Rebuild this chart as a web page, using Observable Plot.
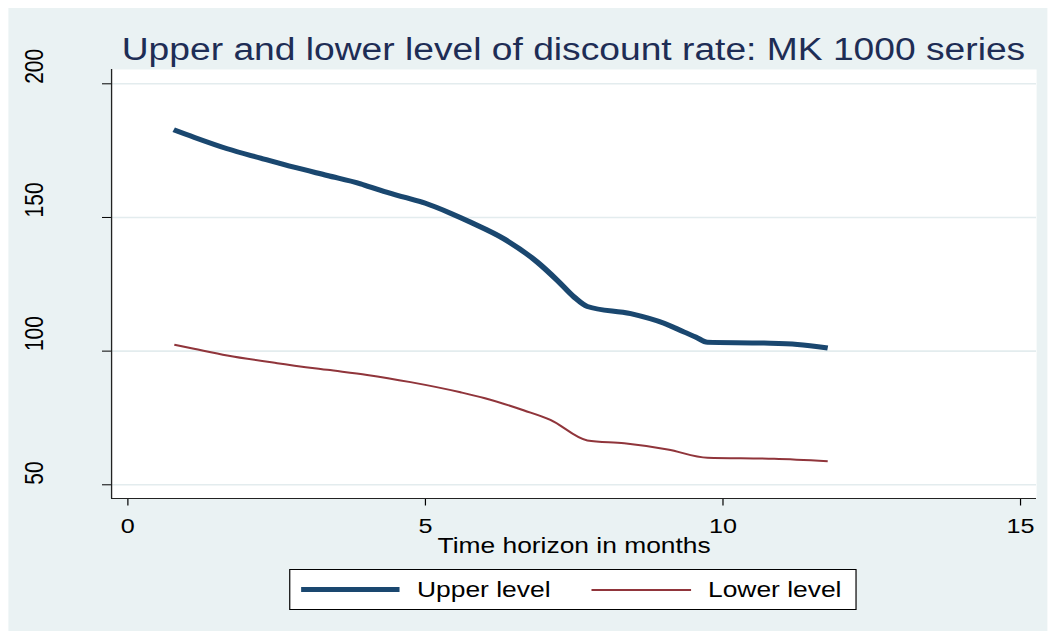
<!DOCTYPE html>
<html>
<head>
<meta charset="utf-8">
<script src="https://cdn.jsdelivr.net/npm/d3@7"></script>
<script src="https://cdn.jsdelivr.net/npm/@observablehq/plot@0.6"></script>
<style>
  body { margin: 0; background: #fff; }
  #page { position: relative; width: 1051px; height: 635px; background: #fff; overflow: hidden; font-family: "Liberation Sans", Arial, sans-serif; }
  #chart { position: absolute; left: 0; top: 0; width: 876px; height: 635px; transform: scaleX(1.19977); transform-origin: 0 0; }
  #bg { position: absolute; left: 6.67px; top: 8px; width: 866px; height: 623px; background: #eaf2f3; }
  #title { position: absolute; left: 92.5px; width: 771px; top: 34px; font-size: 31px; line-height: 31px; text-align: center; color: #1e2d55; white-space: nowrap; }
  #plot { position: absolute; left: 0; top: 62px; }
  #legend { position: absolute; left: 240.9px; top: 569px; width: 473.4px; height: 41px; box-sizing: border-box; border: 1px solid #000; background: #fff; }
  #legend .sw { position: absolute; width: 82.5px; }
  #legend .lt { position: absolute; top: 0; font-size: 22px; line-height: 40px; color: #000; white-space: nowrap; }
</style>
</head>
<body>
<div id="page">
  <div id="chart">
    <div id="bg"></div>
    <div id="title">Upper and lower level of discount rate: MK 1000 series</div>
    <div id="plot"></div>
    <div id="legend">
      <div class="sw" style="left:9px; top:17px; height:5px; background:#1a476f;"></div>
      <div class="lt" style="left:105.7px;">Upper level</div>
      <div class="sw" style="left:251.5px; top:18.5px; height:2px; background:#90353b;"></div>
      <div class="lt" style="left:348.2px;">Lower level</div>
    </div>
  </div>
</div>
<script>
// ---- data ----
const upperMonths = [0.77, 1.11, 1.67, 2.23, 2.79, 3.35, 3.91, 4.25, 4.64, 5.00, 5.42, 5.76, 6.32, 6.88, 7.22, 7.50, 7.72, 8.45, 9.01, 9.35, 9.54, 9.74, 10.69, 11.25, 11.76];
const upperValues = [182.8, 180.0, 175.7, 172.2, 168.8, 165.7, 162.6, 160.1, 157.6, 155.3, 151.6, 148.2, 142.0, 133.3, 126.4, 120.2, 116.7, 114.0, 110.4, 107.1, 105.3, 103.3, 103.0, 102.5, 101.2];
const lowerMonths = [0.78, 1.11, 1.67, 2.51, 3.35, 4.02, 4.75, 5.59, 6.00, 6.66, 7.10, 7.72, 8.34, 9.07, 9.74, 10.86, 11.76];
const lowerValues = [102.4, 100.9, 98.4, 95.5, 93.0, 91.1, 88.4, 84.6, 82.4, 77.8, 74.3, 66.6, 65.5, 63.2, 60.1, 59.7, 58.8];
const xTicks = [0, 5, 10, 15];
const yTicks = [50, 100, 150, 200];
const xDomain = [-0.274, 15.27];
const yDomain = [44.87, 205.35];
const xLabel = "Time horizon in months";

const upper = upperMonths.map((m, i) => ({month: m, value: upperValues[i]}));
const lower = lowerMonths.map((m, i) => ({month: m, value: lowerValues[i]}));

const chart = Plot.plot({
  width: 876,
  height: 500,
  marginLeft: 92.5,
  marginRight: 12.5,
  marginTop: 7,
  marginBottom: 64,
  style: {background: "transparent", fontFamily: "'Liberation Sans', Arial, sans-serif", fontSize: "21px", color: "#000", overflow: "visible"},
  x: {domain: xDomain, ticks: xTicks, tickSize: 7.5, tickPadding: 12, label: null},
  y: {domain: yDomain, ticks: yTicks, tickSize: 7.5, tickFormat: () => "", label: null},
  marks: [
    Plot.frame({fill: "#fff", stroke: null}),
    Plot.ruleY(yTicks, {stroke: "#e3ecee", strokeWidth: 1.6}),
    Plot.ruleX([xDomain[0]], {stroke: "#222", strokeWidth: 1.1}),
    Plot.ruleY([yDomain[0]], {stroke: "#222", strokeWidth: 1.1}),
    Plot.line(lower, {x: "month", y: "value", stroke: "#90353b", strokeWidth: 2, strokeLinecap: "butt", curve: "monotone-x"}),
    Plot.line(upper, {x: "month", y: "value", stroke: "#1a476f", strokeWidth: 5, strokeLinecap: "butt", curve: "monotone-x"}),
    Plot.text(yTicks, {y: d => d, text: d => String(d), frameAnchor: "left", dx: -64.2, rotate: -90, fontSize: 21, fill: "#000"}),
    Plot.text([xLabel], {text: d => d, frameAnchor: "bottom", dy: 54.5, fontSize: 22, fill: "#000"})
  ]
});
document.getElementById("plot").appendChild(chart);
</script>
</body>
</html>
